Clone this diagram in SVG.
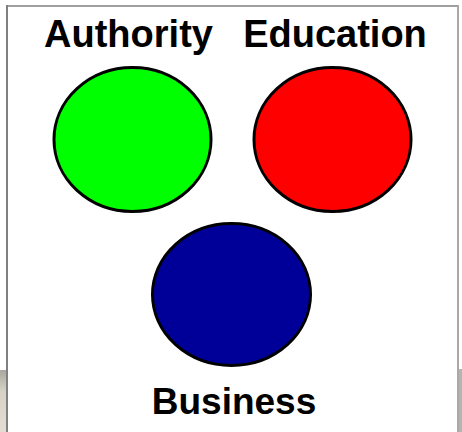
<svg xmlns="http://www.w3.org/2000/svg" width="462" height="432" viewBox="0 0 462 432">
  <defs>
    <style>
      .node { stroke: #000000; stroke-width: 3; }
      .label { font-family: "Liberation Sans", Arial, sans-serif; font-weight: bold; font-size: 38px; fill: #000000; text-anchor: middle; }
    </style>
    <linearGradient id="beige" x1="0" y1="0" x2="0" y2="1">
      <stop offset="0" stop-color="#a9a89e"/>
      <stop offset="0.35" stop-color="#d6d2c6"/>
      <stop offset="1" stop-color="#e2ded4"/>
    </linearGradient>
  </defs>
  <rect x="0" y="0" width="462" height="432" fill="#ffffff"/>
  <rect x="0" y="370" width="6" height="62" fill="url(#beige)"/>
  <rect x="459" y="369" width="3" height="63" fill="#b4b4b0"/>
  <g id="frame">
    <rect x="6" y="5" width="453" height="2" fill="#a0a0a0"/>
    <rect x="6" y="5" width="2" height="427" fill="#808080"/>
    <rect x="457" y="5" width="2" height="427" fill="#a8a8a8"/>
  </g>
  <g id="connectors"></g>
  <g id="authority">
    <ellipse class="node" cx="132.5" cy="139.5" rx="78.5" ry="72" fill="#00ff00"/>
    <text class="label" x="128.5" y="47">Authority</text>
  </g>
  <g id="education">
    <ellipse class="node" cx="332.5" cy="139.5" rx="78.5" ry="72" fill="#ff0000"/>
    <text class="label" x="335" y="47">Education</text>
  </g>
  <g id="business">
    <ellipse class="node" cx="231.5" cy="294.5" rx="79" ry="71" fill="#000099"/>
    <text class="label" x="234" y="414" style="font-size:37px">Business</text>
  </g>
</svg>
